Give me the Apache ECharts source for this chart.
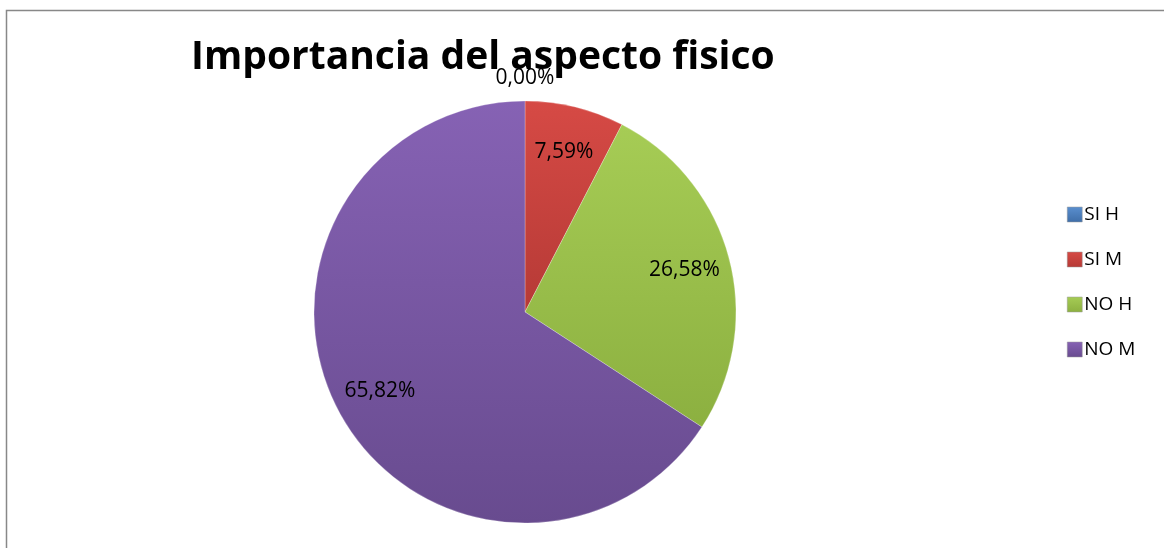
<!DOCTYPE html>
<html><head><meta charset="utf-8">
<script src="https://cdn.jsdelivr.net/npm/echarts@6/dist/echarts.min.js"></script>
<style>html,body{margin:0;padding:0;background:#fff}#c{width:1164px;height:548px}</style>
</head><body><div id="c"></div>
<script>
const categories = ['SI H', 'SI M', 'NO H', 'NO M'];
const counts = [0, 6, 21, 52];
const titleText = 'Importancia del aspecto fisico';
const colorsTop = ['#5a8fcf', '#d64a45', '#a6cc55', '#8662b4'];
const colorsBottom = ['#3f6ea8', '#b63a36', '#8cb040', '#684b8f'];
const FONT = '"Open Sans", "Liberation Sans", sans-serif';

function grad(i) {
  return new echarts.graphic.LinearGradient(0, 0, 0, 1, [
    { offset: 0, color: colorsTop[i] }, { offset: 1, color: colorsBottom[i] }
  ]);
}
const total = counts.reduce((a, b) => a + b, 0);
const fmt = p => (p.value / total * 100).toFixed(2).replace('.', ',') + '%';
const mainData = categories.map((c, i) => ({ name: c, value: counts[i], itemStyle: { color: grad(i) } }));
const labelData = categories.map((c, i) => ({ name: c, value: counts[i] }));
const center = [525, 312];
const chart = echarts.init(document.getElementById('c'), null, { renderer: 'canvas' });
chart.setOption({
  animation: false,
  backgroundColor: '#fff',
  title: {
    text: titleText, left: 186, top: 33,
    textStyle: { fontFamily: FONT, fontWeight: 'bold', fontSize: 39, color: '#000' }
  },
  legend: {
    orient: 'vertical', left: 1062, top: 200, itemGap: 26,
    itemWidth: 15, itemHeight: 15, icon: 'rect',
    data: categories.map((c, i) => ({ name: c, itemStyle: { color: grad(i), borderColor: '#999', borderWidth: 0.5 } })),
    textStyle: { fontFamily: FONT, fontSize: 19, color: '#000', padding: [0, 0, 0, -3] }
  },
  series: [
    {
      type: 'pie', name: 'main', center: center, radius: [0, 211], startAngle: 90, clockwise: true,
      label: { show: false }, labelLine: { show: false }, silent: true,
      itemStyle: { borderColor: 'rgba(255,255,255,0.25)', borderWidth: 1 },
      data: mainData, z: 2
    },
    {
      type: 'pie', name: 'inner', center: center, radius: [113, 211], startAngle: 90, silent: true,
      itemStyle: { color: 'rgba(0,0,0,0)' }, labelLine: { show: false },
      label: { show: true, position: 'inside', formatter: p => p.value > 0 ? fmt(p) : '',
        fontFamily: FONT, fontSize: 21, color: '#000' },
      data: labelData, z: 3
    },
    {
      type: 'pie', name: 'outer', center: center, radius: [231, 231], startAngle: 90, silent: true,
      itemStyle: { color: 'rgba(0,0,0,0)' }, labelLine: { show: false },
      label: { show: true, position: 'inside', formatter: p => p.value === 0 ? fmt(p) : '',
        fontFamily: FONT, fontSize: 21, color: '#000' },
      data: labelData, z: 4
    }
  ],
  graphic: [{ type: 'rect', shape: { x: 6.5, y: 10.5, width: 1200, height: 600 }, style: { fill: 'none', stroke: '#888', lineWidth: 1.5 }, silent: true, z: 100 }]
});
</script></body></html>
